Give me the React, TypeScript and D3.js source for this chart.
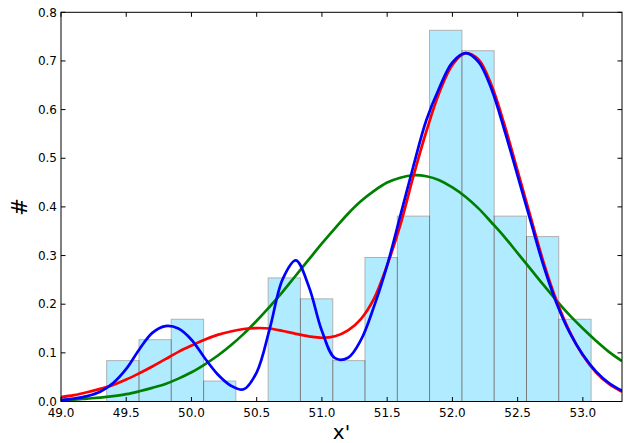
import React from 'react';
import * as d3 from 'd3';

// sample positions for the fitted curves (read every 0.1)
const xSamples = [
  49.0, 49.1, 49.2, 49.3, 49.4, 49.5, 49.6, 49.7, 49.8, 49.9,
  50.0, 50.1, 50.2, 50.3, 50.4, 50.5, 50.6, 50.7, 50.8, 50.9,
  51.0, 51.1, 51.2, 51.3, 51.4, 51.5, 51.6, 51.7, 51.8, 51.9,
  52.0, 52.1, 52.2, 52.3, 52.4, 52.5, 52.6, 52.7, 52.8, 52.9,
  53.0, 53.1, 53.2, 53.3,
];

// green: single component
const fitOne = [
  0.003, 0.004, 0.006, 0.008, 0.011, 0.015, 0.021, 0.028, 0.036, 0.047,
  0.060, 0.076, 0.094, 0.115, 0.139, 0.166, 0.195, 0.226, 0.259, 0.292,
  0.325, 0.356, 0.386, 0.412, 0.433, 0.450, 0.460, 0.465, 0.463, 0.455,
  0.440, 0.421, 0.397, 0.368, 0.338, 0.305, 0.272, 0.239, 0.207, 0.177,
  0.150, 0.125, 0.102, 0.083,
];

// red: two components
const fitTwo = [
  0.009, 0.013, 0.019, 0.026, 0.034, 0.045, 0.058, 0.072, 0.087, 0.102,
  0.115, 0.127, 0.137, 0.144, 0.149, 0.151, 0.150, 0.145, 0.139, 0.134,
  0.131, 0.134, 0.146, 0.170, 0.212, 0.280, 0.362, 0.462, 0.555, 0.635,
  0.692, 0.716, 0.703, 0.650, 0.568, 0.474, 0.379, 0.285, 0.206, 0.143,
  0.095, 0.060, 0.036, 0.020,
];

// blue: three components
const fitThree = [
  0.003, 0.006, 0.011, 0.020, 0.038, 0.067, 0.107, 0.141, 0.155, 0.150,
  0.127, 0.090, 0.056, 0.033, 0.025, 0.060, 0.150, 0.252, 0.290, 0.236,
  0.145, 0.089, 0.090, 0.127, 0.196, 0.280, 0.381, 0.483, 0.578, 0.645,
  0.697, 0.716, 0.698, 0.642, 0.557, 0.464, 0.370, 0.278, 0.201, 0.141,
  0.096, 0.062, 0.038, 0.022,
];

const binEdges = [
  49.350, 49.598, 49.845, 50.093, 50.340, 50.588, 50.835, 51.083,
  51.330, 51.578, 51.825, 52.073, 52.320, 52.568, 52.815, 53.063,
];
const binHeights = [
  0.084, 0.127, 0.169, 0.042, 0.0, 0.254, 0.211, 0.084,
  0.296, 0.381, 0.763, 0.721, 0.381, 0.339, 0.169,
];

const xTicks = [49.0, 49.5, 50.0, 50.5, 51.0, 51.5, 52.0, 52.5, 53.0];
const yTicks = [0.0, 0.1, 0.2, 0.3, 0.4, 0.5, 0.6, 0.7, 0.8];

const W = 624;
const H = 443;
const left = 61;
const right = 622;
const top = 12.3;
const bottom = 401.5;
const font = '"DejaVu Sans", sans-serif';

export default function App() {
  const x = d3.scaleLinear().domain([49.0, 53.3]).range([left, right]);
  const y = d3.scaleLinear().domain([0, 0.8]).range([bottom, top]);
  const fmt = d3.format('.1f');

  const line = d3
    .line<number>()
    .x((_, i) => x(xSamples[i]))
    .y(d => y(d))
    .curve(d3.curveCatmullRom);

  const tick = 4.5;

  return (
    <svg
      width={W}
      height={H}
      viewBox={`0 0 ${W} ${H}`}
      style={{ position: 'absolute', left: 0, top: 0, background: '#fff' }}
    >
      <defs>
        <clipPath id="plot">
          <rect x={left} y={top} width={right - left} height={bottom - top} />
        </clipPath>
      </defs>

      {/* histogram */}
      <g>
        {binHeights.map((h, i) =>
          h > 0 ? (
            <rect
              key={i}
              x={x(binEdges[i])}
              y={y(h)}
              width={x(binEdges[i + 1]) - x(binEdges[i])}
              height={y(0) - y(h)}
              fill="#00bfff"
              stroke="#000"
              strokeWidth={1}
              opacity={0.3}
            />
          ) : null
        )}
      </g>

      {/* fits */}
      <g clipPath="url(#plot)" fill="none" strokeWidth={2.7} strokeLinejoin="round">
        <path d={line(fitOne) || ''} stroke="#008000" />
        <path d={line(fitTwo) || ''} stroke="#ff0000" />
        <path d={line(fitThree) || ''} stroke="#0000ff" />
      </g>

      {/* frame */}
      <rect
        x={left}
        y={top}
        width={right - left}
        height={bottom - top}
        fill="none"
        stroke="#000"
        strokeWidth={1}
      />

      {/* ticks */}
      <g stroke="#000" strokeWidth={1}>
        {xTicks.map(t => (
          <g key={'x' + t}>
            <line x1={x(t)} x2={x(t)} y1={bottom} y2={bottom - tick} />
            <line x1={x(t)} x2={x(t)} y1={top} y2={top + tick} />
          </g>
        ))}
        {yTicks.map(t => (
          <g key={'y' + t}>
            <line x1={left} x2={left + tick} y1={y(t)} y2={y(t)} />
            <line x1={right} x2={right - tick} y1={y(t)} y2={y(t)} />
          </g>
        ))}
      </g>

      <g fontFamily={font} fontSize={12} fill="#000">
        {xTicks.map(t => (
          <text key={'xl' + t} x={x(t)} y={416.5} textAnchor="middle">
            {fmt(t)}
          </text>
        ))}
        {yTicks.map(t => (
          <text key={'yl' + t} x={left - 4} y={y(t) + 4.2} textAnchor="end">
            {fmt(t)}
          </text>
        ))}
      </g>

      <text
        x={(left + right) / 2}
        y={438.5}
        textAnchor="middle"
        fontFamily={font}
        fontSize={20}
      >
        x'
      </text>
      <text
        transform={`translate(27, ${(top + bottom) / 2}) rotate(-90)`}
        textAnchor="middle"
        fontFamily={font}
        fontSize={21}
      >
        #
      </text>
    </svg>
  );
}
